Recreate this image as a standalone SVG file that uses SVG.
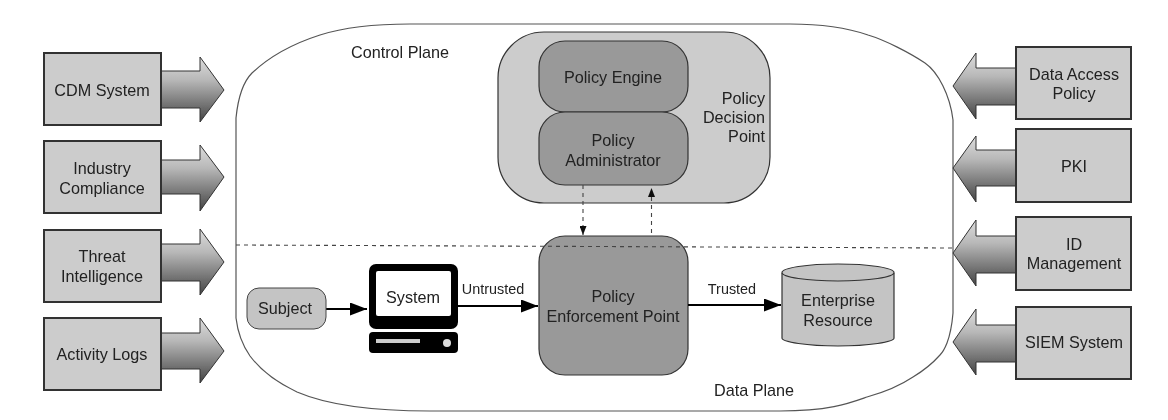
<svg xmlns="http://www.w3.org/2000/svg" width="1168" height="420" viewBox="0 0 1168 420">
<style>
text{font-family:"Liberation Sans",Arial,sans-serif;font-size:16.2px;fill:#222;text-anchor:middle}
.sm{font-size:14.4px}
.end{text-anchor:end}
.box{fill:#ccc;stroke:#333;stroke-width:2}
.blk{fill:#c4c4c4;stroke:#333;stroke-width:1.2}
.dk{fill:#999;stroke:#333;stroke-width:1.2}
.arr{fill:url(#g);stroke:#333;stroke-width:1}
.flow{fill:none;stroke:#000;stroke-width:2.2}
.dash{fill:none;stroke:#444;stroke-width:1.1;stroke-dasharray:4 4}
</style>
<defs>
<linearGradient id="g" x1="0" y1="0" x2="0" y2="1"><stop offset="0" stop-color="#ddd"/><stop offset=".35" stop-color="#b8b8b8"/><stop offset="1" stop-color="#444"/></linearGradient>
<marker id="ah" viewBox="0 0 10 10" refX="10" refY="5" markerWidth="17" markerHeight="13" markerUnits="userSpaceOnUse" orient="auto" preserveAspectRatio="none"><path d="M0 0L10 5L0 10z" fill="#000"/></marker>
<marker id="ad" viewBox="0 0 10 10" refX="10" refY="5" markerWidth="9" markerHeight="7" markerUnits="userSpaceOnUse" orient="auto" preserveAspectRatio="none"><path d="M0 0L10 5L0 10z" fill="#111"/></marker>
<filter id="soft" x="0" y="0" width="1" height="1"><feGaussianBlur stdDeviation="0.6"/></filter>
</defs>
<g filter="url(#soft)">
<rect width="1168" height="420" fill="#fff"/>
<g id="planes">
<path d="M236 118C238 98 243 82 252 73C270 56 295 43 320 35C345 27 375 24 410 24H790C820 24 845 27 868 35C885 40 910 53 925 63C938 72 950 95 953 120V313C952 325 950 335 947 343C945 348 943 352 940 355C932 364 923 371 913 377C898 387 885 392 867 397C850 403 830 411 780 411H430C370 411 325 404 297 392C280 384 262 372 250 356C243 346 238 335 236 318Z" fill="#fff" stroke="#555" stroke-width="1.2"/>
<text x="400" y="58">Control Plane</text>
<text x="754" y="396">Data Plane</text>
</g>
<g id="pdp"><rect x="498" y="32" width="272" height="171" rx="46" fill="#ccc" stroke="#333" stroke-width="1.2"/>
<text x="765" y="104" class="end">Policy</text><text x="765" y="123" class="end">Decision</text><text x="765" y="142" class="end">Point</text></g>
<g id="policy-engine"><rect x="539" y="41" width="149" height="71" rx="26" class="dk"/><text x="613" y="83">Policy Engine</text></g>
<g id="policy-administrator"><rect x="539" y="112" width="149" height="73" rx="26" class="dk"/><text x="613" y="146">Policy</text><text x="613" y="166">Administrator</text></g>
<g id="pep"><rect x="539" y="236" width="149" height="139" rx="26" class="dk"/><text x="613" y="302">Policy</text><text x="613" y="322">Enforcement Point</text></g>
<g id="connectors">
<path class="dash" d="M236 245L953 248"/>
<path class="dash" d="M583 185V235" marker-end="url(#ad)"/>
<path class="dash" d="M651.500 233V188" marker-end="url(#ad)"/>
<path class="flow" d="M326 309H367" marker-end="url(#ah)"/>
<path class="flow" d="M458 306H538" marker-end="url(#ah)"/>
<path class="flow" d="M688 305H781" marker-end="url(#ah)"/>
<path class="arr" d="M161 71H200V57L224 90L200 122V108H161Z"/>
<path class="arr" d="M161 160H200V145L224 177L200 211V194H161Z"/>
<path class="arr" d="M161 244H200V229L224 262L200 295V281H161Z"/>
<path class="arr" d="M161 333H200V318L224 351L200 383V369H161Z"/>
<path class="arr" d="M1016 68H976V53L953 86L976 119V105H1016Z"/>
<path class="arr" d="M1016 150H976V136L953 168L976 202V186H1016Z"/>
<path class="arr" d="M1016 236H976V220L953 253L976 286V273H1016Z"/>
<path class="arr" d="M1016 325H976V309L953 342L976 375V362H1016Z"/>
</g>
<g id="labels"><text x="493" y="294" class="sm">Untrusted</text><text x="732" y="294" class="sm">Trusted</text></g>
<g id="subject"><rect x="247" y="288" width="79" height="41" rx="12" fill="#c4c4c4" stroke="#444"/><text x="285" y="314">Subject</text></g>
<g id="system">
<rect x="369" y="264" width="89" height="65" rx="7" fill="#000"/><rect x="376" y="271" width="75" height="45" rx="2" fill="#fff"/>
<rect x="369" y="332" width="89" height="21" rx="4" fill="#000"/><rect x="376" y="339" width="44" height="4" fill="#ccc"/><circle cx="447" cy="343" r="4" fill="#ddd"/>
<text x="413" y="303">System</text></g>
<g id="enterprise-resource"><path d="M782 273V338C782 342 807 346 838 346S894 342 894 338V273" fill="#c4c4c4" stroke="#333" stroke-width="1.2"/><ellipse cx="838" cy="272.500" rx="56" ry="8.500" fill="#c4c4c4" stroke="#333" stroke-width="1.2"/>
<text x="838" y="306">Enterprise</text><text x="838" y="326">Resource</text></g>
<g id="cdm"><rect x="44" y="53" width="117" height="72" class="box"/><text x="102" y="96">CDM System</text></g>
<g id="industry"><rect x="44" y="141" width="117" height="72" class="box"/><text x="102" y="174">Industry</text><text x="102" y="194">Compliance</text></g>
<g id="threat"><rect x="44" y="230" width="117" height="72" class="box"/><text x="102" y="262">Threat</text><text x="102" y="282">Intelligence</text></g>
<g id="activity"><rect x="44" y="318" width="117" height="72" class="box"/><text x="102" y="360">Activity Logs</text></g>
<g id="data-access"><rect x="1016" y="47" width="115" height="72" class="box"/><text x="1074" y="80">Data Access</text><text x="1074" y="99">Policy</text></g>
<g id="pki"><rect x="1016" y="129" width="115" height="73" class="box"/><text x="1074" y="172">PKI</text></g>
<g id="id-mgmt"><rect x="1016" y="217" width="115" height="73" class="box"/><text x="1074" y="250">ID</text><text x="1074" y="269">Management</text></g>
<g id="siem"><rect x="1016" y="307" width="115" height="72" class="box"/><text x="1074" y="348">SIEM System</text></g>
</g>
</svg>
